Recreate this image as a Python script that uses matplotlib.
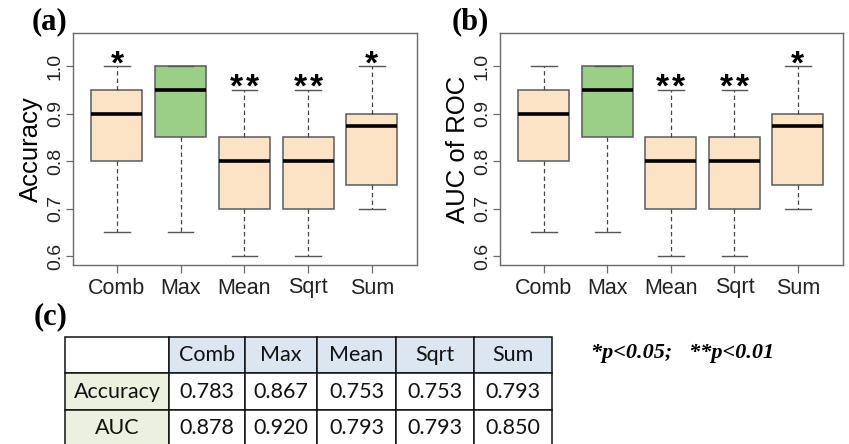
import matplotlib
matplotlib.use("Agg")
import matplotlib.pyplot as plt

methods = ["Comb", "Max", "Mean", "Sqrt", "Sum"]

# Box summaries of accuracy per aggregation method
acc_whislo = [0.65, 0.65, 0.60, 0.60, 0.70]
acc_q1 = [0.80, 0.85, 0.70, 0.70, 0.75]
acc_med = [0.90, 0.95, 0.80, 0.80, 0.875]
acc_q3 = [0.95, 1.00, 0.85, 0.85, 0.90]
acc_whishi = [1.00, 1.00, 0.95, 0.95, 1.00]
acc_sig = ["*", "", "**", "**", "*"]

# Box summaries of AUC of ROC per aggregation method
auc_whislo = [0.65, 0.65, 0.60, 0.60, 0.70]
auc_q1 = [0.80, 0.85, 0.70, 0.70, 0.75]
auc_med = [0.90, 0.95, 0.80, 0.80, 0.875]
auc_q3 = [0.95, 1.00, 0.85, 0.85, 0.90]
auc_whishi = [1.00, 1.00, 0.95, 0.95, 1.00]
auc_sig = ["", "", "**", "**", "*"]

# Mean scores shown in the summary table
acc_mean = [0.783, 0.867, 0.753, 0.753, 0.793]
auc_mean = [0.878, 0.920, 0.793, 0.793, 0.850]
row_labels = ["Accuracy", "AUC"]

yticks = [0.6, 0.7, 0.8, 0.9, 1.0]

BOX_FILL = "#FCE3C6"
BEST_FILL = "#9BCE86"
EDGE = "#5a5a5a"
FRAME = "#6a6a6a"

W, H = 849, 444
fig = plt.figure(figsize=(W / 100, H / 100), dpi=100)


def px_rect(x0, y0, x1, y1):
    return [x0 / W, 1 - y1 / H, (x1 - x0) / W, (y1 - y0) / H]


def box_panel(rect, whislo, q1, med, q3, whishi, sig, ylabel, tag, tag_x):
    ax = fig.add_axes(rect)
    stats = [dict(whislo=a, q1=b, med=c, q3=d, whishi=e, fliers=[], label=m)
             for a, b, c, d, e, m in zip(whislo, q1, med, q3, whishi, methods)]
    pos = list(range(1, len(methods) + 1))
    bp = ax.bxp(stats, positions=pos, widths=0.8, patch_artist=True,
                showfliers=False, capwidths=0.4,
                boxprops=dict(edgecolor=EDGE, linewidth=1.1),
                medianprops=dict(color="black", linewidth=2.6, solid_capstyle="butt"),
                whiskerprops=dict(color="#444444", linewidth=0.9, linestyle=(0, (3.5, 2.5))),
                capprops=dict(color="#555555", linewidth=1.0))
    best = max(range(len(med)), key=lambda i: med[i])
    for i, patch in enumerate(bp["boxes"]):
        patch.set_facecolor(BEST_FILL if i == best else BOX_FILL)
    # significance asterisks above the upper whisker
    for x, top, s in zip(pos, whishi, sig):
        n = len(s)
        for k in range(n):
            dx = (k - (n - 1) / 2) * 11.5
            ax.annotate("*", (x, top), xytext=(dx, -5),
                        textcoords="offset points", ha="center", va="baseline",
                        fontsize=24, fontweight="bold", family="Liberation Sans")
    ax.set_xlim(0.31, 5.71)
    ax.set_ylim(0.581, 1.07)
    ax.set_yticks(yticks)
    ax.set_yticklabels([f"{v:.1f}" for v in yticks], rotation=90, va="center",
                       fontsize=14, family="Liberation Sans", color="#222222")
    ax.set_xticks(pos)
    ax.set_xticklabels(methods, fontsize=15.5, family="Liberation Sans", color="#222222")
    ax.tick_params(axis="y", length=5, width=0.9, color=FRAME, pad=1.5)
    ax.tick_params(axis="x", length=6, width=0.9, color=FRAME, pad=3)
    for sp in ax.spines.values():
        sp.set_color(FRAME)
        sp.set_linewidth(1.0)
    ax.set_ylabel(ylabel, fontsize=18.5, family="Liberation Sans", labelpad=3)
    fig.text(tag_x / W, 1 - 22 / H, tag, fontsize=22, fontweight="bold",
             family="Liberation Serif", ha="left", va="center")
    return ax


box_panel(px_rect(73, 33, 417, 265), acc_whislo, acc_q1, acc_med, acc_q3,
          acc_whishi, acc_sig, "Accuracy", "(a)", 32)
box_panel(px_rect(500, 33, 843, 265), auc_whislo, auc_q1, auc_med, auc_q3,
          auc_whishi, auc_sig, "AUC of ROC", "(b)", 452)

fig.text(34 / W, 1 - 317 / H, "(c)", fontsize=22, fontweight="bold",
         family="Liberation Serif", ha="left", va="center")

# Summary table of mean scores
tax = fig.add_axes([0, 0, 1, 1])
tax.set_axis_off()
tax.set_xlim(0, 1)
tax.set_ylim(0, 1)
cells = [[""] + methods,
         [row_labels[0]] + [f"{v:.3f}" for v in acc_mean],
         [row_labels[1]] + [f"{v:.3f}" for v in auc_mean]]
HEAD = "#DCE6F1"
SIDE = "#EBF1DE"
colours = [["white"] + [HEAD] * 5,
           [SIDE] + ["white"] * 5,
           [SIDE] + ["white"] * 5]
col_px = [104, 76, 72, 79, 78, 78]
tot = sum(col_px)
tb = tax.table(cellText=cells, cellColours=colours, cellLoc="center",
               colWidths=[c / tot for c in col_px],
               bbox=[65 / W, (H - 446) / H, (552 - 65) / W, (446 - 337) / H])
tb.auto_set_font_size(False)
for (r, c), cell in tb.get_celld().items():
    cell.set_edgecolor("#111111")
    cell.set_linewidth(1.1)
    cell.get_text().set_fontsize(15.5)
    cell.get_text().set_family("Lato")
    cell.get_text().set_color("#111111")

fig.text(591 / W, 1 - 353 / H, "*p<0.05;   **p<0.01", fontsize=16,
         fontweight="bold", fontstyle="italic", family="Liberation Serif",
         ha="left", va="center")

fig.savefig("out.png", dpi=100)
